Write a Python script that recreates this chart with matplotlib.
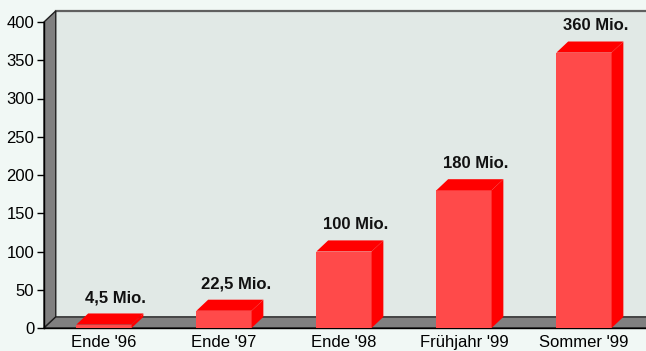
import matplotlib.pyplot as plt
from matplotlib.patches import Polygon

# Nutzerzahlen in Millionen
periods = ["Ende '96", "Ende '97", "Ende '98", "Frühjahr '99", "Sommer '99"]
users = [4.5, 22.5, 100, 180, 360]
yticks = [0, 50, 100, 150, 200, 250, 300, 350, 400]

BG = '#f1f8f5'
WALL = '#e1e9e6'
FLOOR = '#808080'
FRONT = '#ff4a4a'
SIDE = '#ff0000'


def fmt(v):
    return f'{v:g}'.replace('.', ',') + ' Mio.'


def main():
    plt.rcParams['font.family'] = ['Liberation Sans', 'DejaVu Sans']
    fig = plt.figure(figsize=(6.46, 3.51), dpi=100, facecolor=BG)
    ax = fig.add_axes([44 / 646, 23 / 351, 600 / 646, 306 / 351])
    ax.set_facecolor(BG)
    ax.set_xlim(-0.5, 4.5)
    ax.set_ylim(0, 400)

    # depth of the pseudo-3d box in data units (about 12 px right, 11 px up)
    dx = 0.098
    dy = 14.5
    x0, x1 = -0.5, 4.7
    top = yticks[-1]

    wall = Polygon([(x0 + dx, dy), (x1, dy), (x1, top + dy), (x0 + dx, top + dy)],
                   closed=True, facecolor=WALL, edgecolor='none', clip_on=False, zorder=0)
    ax.add_patch(wall)
    ax.plot([x0 + dx, x1], [top + dy, top + dy], color='#606060', lw=1.6,
            clip_on=False, zorder=1)
    side_wall = Polygon([(x0, 0), (x0 + dx, dy), (x0 + dx, top + dy), (x0, top)],
                        closed=True, facecolor=FLOOR, edgecolor='#202020', lw=1.0,
                        clip_on=False, zorder=1)
    ax.add_patch(side_wall)
    floor = Polygon([(x0, 0), (x0 + dx, dy), (x1, dy), (x1, 0)],
                    closed=True, facecolor=FLOOR, edgecolor='#202020', lw=1.0,
                    clip_on=False, zorder=1)
    ax.add_patch(floor)

    x = list(range(len(periods)))
    w = 0.46
    ax.bar(x, users, width=w, color=FRONT, zorder=3)
    for xi, v in zip(x, users):
        l, r = xi - w / 2, xi + w / 2
        ax.add_patch(Polygon([(l, v), (l + dx, v + dy), (r + dx, v + dy), (r, v)],
                             closed=True, facecolor=SIDE, edgecolor='none', zorder=3))
        ax.add_patch(Polygon([(r, 0), (r + dx, dy), (r + dx, v + dy), (r, v)],
                             closed=True, facecolor=SIDE, edgecolor='none', zorder=3))
        ax.text(xi + dx, v + dy + 11, fmt(v), ha='center', va='bottom',
                fontsize=12, fontweight='bold', color='#111111', zorder=4)

    ax.set_xticks(x)
    ax.set_xticklabels(periods, fontsize=12)
    ax.set_yticks(yticks)
    ax.tick_params(axis='y', length=5, width=1, pad=2, labelsize=12)
    ax.tick_params(axis='x', length=0, pad=5)
    for s in ['top', 'right']:
        ax.spines[s].set_visible(False)
    ax.spines['left'].set_linewidth(1.0)
    ax.spines['bottom'].set_linewidth(1.0)
    ax.spines['left'].set_zorder(5)
    ax.spines['bottom'].set_bounds(-0.5, 4.7)

    plt.savefig('out.png', dpi=100, facecolor=BG)


if __name__ == '__main__':
    main()
